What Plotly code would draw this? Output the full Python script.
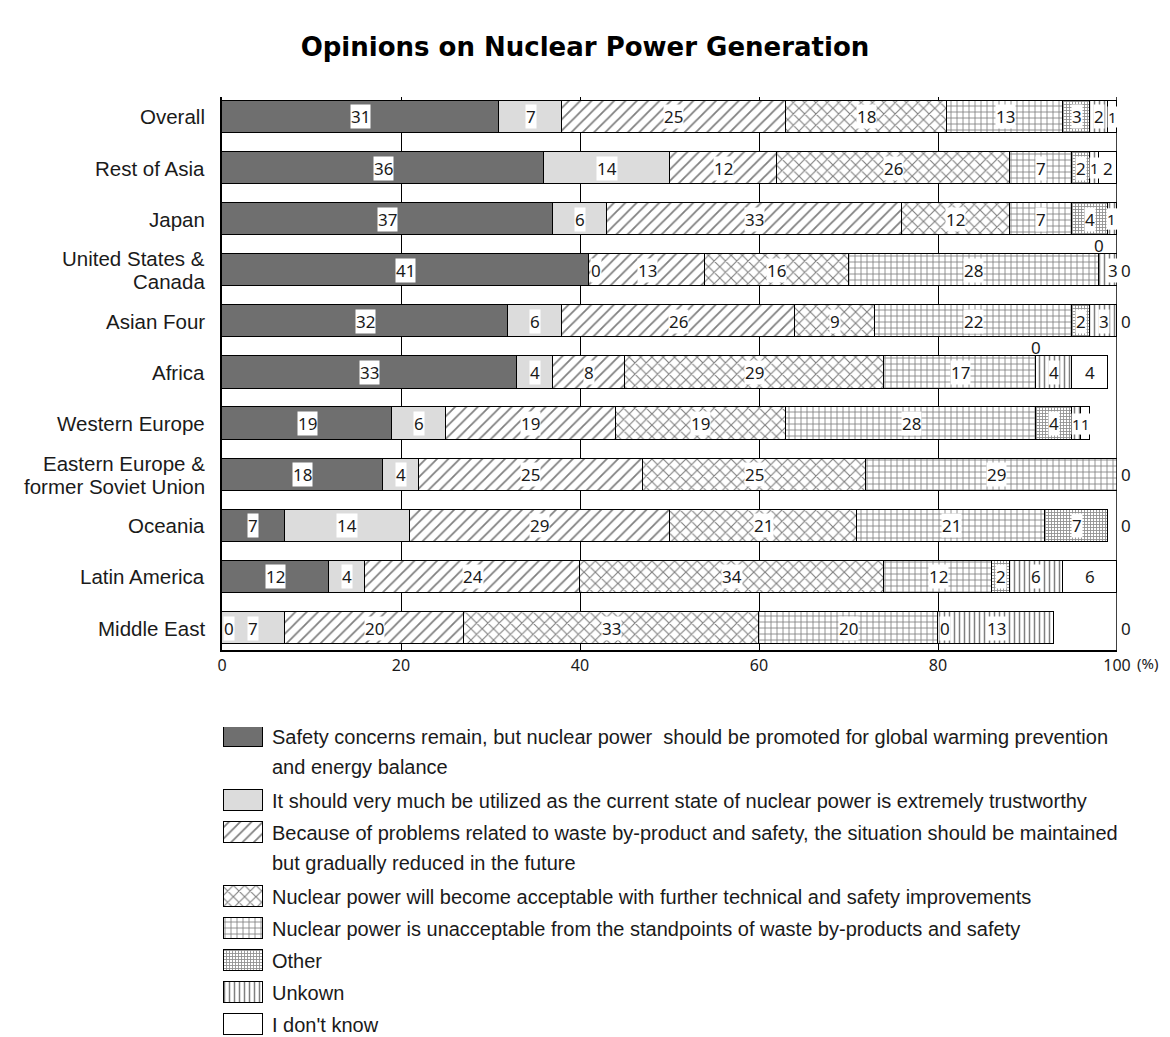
import plotly.graph_objects as go

# ---- data -------------------------------------------------------------
regions = [
    "Overall",
    "Rest of Asia",
    "Japan",
    "United States &<br>Canada",
    "Asian Four",
    "Africa",
    "Western Europe",
    "Eastern Europe &<br>former Soviet Union",
    "Oceania",
    "Latin America",
    "Middle East",
]

series_names = [
    "Safety concerns remain, but nuclear power  should be promoted for global warming prevention<br>and energy balance",
    "It should very much be utilized as the current state of nuclear power is extremely trustworthy",
    "Because of problems related to waste by-product and safety, the situation should be maintained<br>but gradually reduced in the future",
    "Nuclear power will become acceptable with further technical and safety improvements",
    "Nuclear power is unacceptable from the standpoints of waste by-products and safety",
    "Other",
    "Unkown",
    "I don't know",
]

promote = [31, 36, 37, 41, 32, 33, 19, 18, 7, 12, 0]
utilize = [7, 14, 6, 0, 6, 4, 6, 4, 14, 4, 7]
reduce_gradually = [25, 12, 33, 13, 26, 8, 19, 25, 29, 24, 20]
acceptable_later = [18, 26, 12, 16, 9, 29, 19, 25, 21, 34, 33]
unacceptable = [13, 7, 7, 28, 22, 17, 28, 29, 21, 12, 20]
other = [3, 2, 4, 0, 2, 0, 4, 0, 7, 2, 0]
unknown = [2, 1, 1, 3, 3, 4, 1, 0, 0, 6, 13]
dont_know = [1, 2, 1, 0, 0, 4, 1, 0, 0, 6, 0]

values = [promote, utilize, reduce_gradually, acceptable_later,
          unacceptable, other, unknown, dont_know]

# zero shares that carry a printed "0": (region index, series index, where)
zero_notes = [
    (3, 1, "inside"), (3, 5, "above"), (3, 7, "right"),
    (4, 7, "right"),
    (5, 5, "above"),
    (7, 7, "right"),
    (8, 7, "right"),
    (10, 0, "inside"), (10, 5, "inside"), (10, 7, "right"),
]

# ---- styles -----------------------------------------------------------
LABEL_FONT = "Liberation Sans"
NUM_FONT = "Noto Sans"
INK = "#1a1a1a"


def hatch(shape, size, solidity, fg="black"):
    return dict(shape=shape, size=size, solidity=solidity,
                fgcolor=fg, bgcolor="white", fillmode="overlay")


styles = [
    dict(color="#6f6f6f"),
    dict(color="#dcdcdc"),
    dict(color="white", pattern=hatch("/", 8, 0.22)),
    dict(color="white", pattern=hatch("x", 8, 0.26)),
    dict(color="white", pattern=hatch("+", 6, 0.26)),
    dict(color="white", pattern=hatch("+", 3, 0.5, "#222")),
    dict(color="white", pattern=hatch("|", 5, 0.3)),
    dict(color="white"),
]

fig = go.Figure()

# ---- stacked bars -----------------------------------------------------
for name, vals, st in zip(series_names, values, styles):
    marker = dict(color=st["color"], line=dict(color="black", width=1.5))
    if "pattern" in st:
        marker["pattern"] = st["pattern"]
    fig.add_trace(go.Bar(
        x=vals, y=list(range(len(regions))), orientation="h", name=name,
        width=0.63, marker=marker, showlegend=False, hoverinfo="skip",
        xaxis="x", yaxis="y",
    ))

annotations = []
num_font = dict(family=NUM_FONT, size=17, color=INK)
small_num_font = dict(family=NUM_FONT, size=15, color=INK)

# region names at the left of each bar (two-line names get tighter leading)
for i, reg in enumerate(regions):
    parts = reg.split("<br>")
    offsets = [0] if len(parts) == 1 else [-11.5, 11.5]
    for part, off in zip(parts, offsets):
        annotations.append(dict(
            x=0, y=i, xref="paper", yref="y", text=part, showarrow=False,
            xanchor="right", yanchor="middle", xshift=-15, yshift=-off,
            font=dict(family=LABEL_FONT, size=20.5, color=INK),
        ))

# value labels centred in each segment (kept inside the 0-100 window)
cum = [0] * len(regions)
starts = []
for s, vals in enumerate(values):
    row_starts = []
    for i, v in enumerate(vals):
        row_starts.append(cum[i])
        if v > 0:
            xc = cum[i] + v / 2
            anchor = "center"
            if xc > 99.5:
                xc, anchor = 100, "right"
            annotations.append(dict(
                x=xc, y=i, xref="x", yref="y", xanchor=anchor,
                text=str(v), showarrow=False, bgcolor="white", borderpad=0,
                font=small_num_font if v <= 1 else num_font,
            ))
        cum[i] += v
    starts.append(row_starts)

# printed zeros
for i, s, where in zero_notes:
    pos = starts[s][i]
    if where == "inside":
        annotations.append(dict(x=pos, y=i, xref="x", yref="y", text="0",
                                showarrow=False, xanchor="left", xshift=1,
                                bgcolor="white", borderpad=0, font=num_font))
    elif where == "above":
        annotations.append(dict(x=pos, y=i - 0.49, xref="x", yref="y", text="0",
                                showarrow=False, xanchor="center", font=num_font))
    else:
        annotations.append(dict(x=100, y=i, xref="x", yref="y", text="0",
                                showarrow=False, xanchor="left", xshift=2,
                                font=num_font))

# unit label after the axis end
annotations.append(dict(x=100, y=0, xref="x", yref="y domain", text="(%)",
                        showarrow=False, xanchor="left", yanchor="top",
                        xshift=18, yshift=-1,
                        font=dict(family=NUM_FONT, size=15, color=INK)))

# ---- legend block (own subplot, 1 unit = 1 px) -------------------------
line_gap = 32
line_no = 0
for name, st in zip(series_names, styles):
    yc = 10 + line_no * line_gap
    marker = dict(color=st["color"], line=dict(color="black", width=1.2))
    if "pattern" in st:
        marker["pattern"] = st["pattern"]
    fig.add_trace(go.Bar(
        x=[39], y=[yc - 1], orientation="h", width=21, marker=marker,
        showlegend=False, hoverinfo="skip", xaxis="x2", yaxis="y2",
    ))
    for k, part in enumerate(name.split("<br>")):
        annotations.append(dict(
            x=46, y=yc + k * 30, xref="x2", yref="y2", text=part,
            showarrow=False, xanchor="left", yanchor="middle",
            font=dict(family=LABEL_FONT, size=20, color=INK),
        ))
    line_no += len(name.split("<br>"))

# right-hand frame line at 100 %
shapes = [dict(type="line", xref="x", yref="y domain", x0=100, x1=100,
               y0=0, y1=1, line=dict(color="black", width=1.5))]

fig.update_layout(
    width=1170, height=1037,
    margin=dict(l=222, r=53, t=97, b=0),
    paper_bgcolor="white", plot_bgcolor="white",
    barmode="stack", bargap=0,
    title=dict(text="<b>Opinions on Nuclear Power Generation</b>",
               x=0.5, xref="container", xanchor="center",
               y=1 - 47 / 1037, yref="container", yanchor="middle",
               font=dict(family="DejaVu Sans", size=26, color="black")),
    xaxis=dict(domain=[0, 1], range=[0, 100], tickvals=[0, 20, 40, 60, 80, 100],
               showgrid=True, gridcolor="black", gridwidth=1,
               showline=True, linecolor="black", linewidth=1.5,
               zeroline=False, ticks="", anchor="y",
               tickfont=dict(family=NUM_FONT, size=16, color=INK)),
    yaxis=dict(domain=[(1037 - 650) / 940, 1], range=[10.43, -0.39],
               showgrid=False, showline=True, linecolor="black", linewidth=1.5,
               zeroline=False, ticks="", showticklabels=False, anchor="x"),
    xaxis2=dict(domain=[0, 1], range=[-2, 893], visible=False, anchor="y2"),
    yaxis2=dict(domain=[0, 310 / 940], range=[310, 0], visible=False, anchor="x2"),
    annotations=annotations,
    shapes=shapes,
)

fig.write_html("out.html")
